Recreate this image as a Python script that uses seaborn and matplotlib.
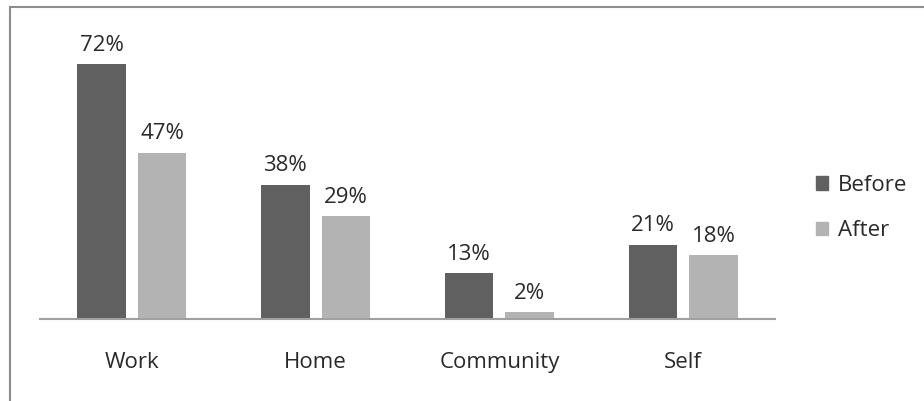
import matplotlib
matplotlib.use("Agg")
import matplotlib.pyplot as plt
import seaborn as sns
import pandas as pd
from matplotlib.patches import Rectangle

categories = ["Work", "Home", "Community", "Self"]
before = [72, 38, 13, 21]
after = [47, 29, 2, 18]
series = ["Before", "After"]

df = pd.DataFrame({
    "category": categories * 2,
    "value": before + after,
    "series": ["Before"] * 4 + ["After"] * 4,
})

sns.set_theme(style="white")
plt.rcParams['font.family'] = ['Open Sans', 'DejaVu Sans']

W, H = 924, 401
fs = 16
fig = plt.figure(figsize=(W / 100, H / 100), dpi=100)
ax = fig.add_axes([40 / W, 1 - 319 / H, 735 / W, (319 - 36) / H])

colors = {"Before": "#606060", "After": "#b3b3b3"}
sns.barplot(data=df, x="category", y="value", hue="series", hue_order=series,
            palette=colors, width=0.66, gap=0.2, ax=ax, legend=False,
            saturation=1, linewidth=0, edgecolor="none")

ax.set_ylim(0, 80)
ax.set_xlim(-0.5, 3.5)
for c in ax.containers:
    ax.bar_label(c, labels=[f"{int(v)}%" for v in c.datavalues], padding=6,
                 fontsize=fs, color="#2a2a2a")

for s in ["top", "right", "left"]:
    ax.spines[s].set_visible(False)
ax.spines["bottom"].set_color("#a0a0a0")
ax.spines["bottom"].set_linewidth(1.5)
ax.set_yticks([])
ax.set_xlabel("")
ax.set_ylabel("")
ax.tick_params(axis="x", length=0, pad=24, labelsize=fs, labelcolor="#2a2a2a")

handles = [Rectangle((0, 0), 1, 1, color=colors[s]) for s in series]
fig.legend(handles, series, loc="upper left", bbox_to_anchor=(796 / W, 1 - 155 / H),
           frameon=False, fontsize=fs, handlelength=0.55, handleheight=0.55,
           labelspacing=1.1, handletextpad=0.45, labelcolor="#2a2a2a")

border = Rectangle((10 / W, -0.1), 1.2, 1 - 7 / H + 0.1, transform=fig.transFigure,
                   fill=False, edgecolor="#8c8c8c", linewidth=1.5)
fig.patches.append(border)

fig.savefig("out.png", dpi=100)
